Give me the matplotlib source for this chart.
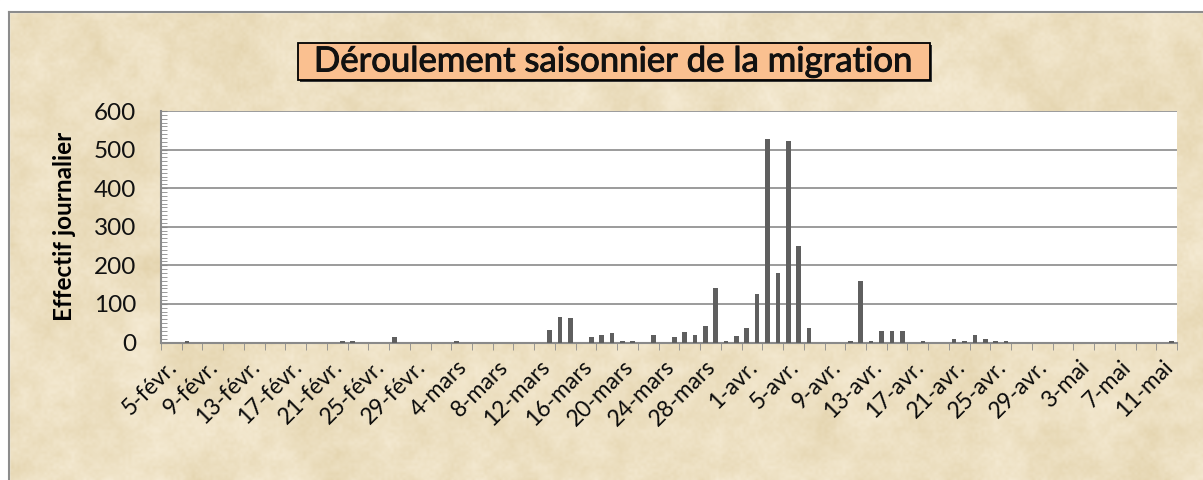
import matplotlib.pyplot as plt
import matplotlib.patches as mpatches
import matplotlib.patheffects as pe
import numpy as np

# daily counts, 5 Feb -> 12 May
months = [('févr.', 5, 29), ('mars', 1, 31), ('avr.', 1, 30), ('mai', 1, 12)]
day_labels = [f'{d}-{m}' for m, first, last in months for d in range(first, last + 1)]

counts = [
    0, 0, 5, 0, 0, 0, 0, 0, 0, 0,
    0, 0, 0, 0, 0, 0, 0, 3, 5, 0,
    0, 0, 14, 0, 0, 0, 0, 0, 3, 0,
    0, 0, 0, 0, 0, 0, 0, 32, 66, 64,
    0, 13, 19, 24, 3, 5, 0, 19, 0, 13,
    27, 19, 42, 140, 5, 16, 37, 126, 527, 180,
    522, 250, 37, 0, 0, 0, 3, 160, 5, 30,
    30, 30, 0, 3, 0, 0, 8, 5, 19, 8,
    3, 3, 0, 0, 0, 0, 0, 0, 0, 0,
    0, 0, 0, 0, 0, 0, 0, 3,
]

title = 'Déroulement saisonnier de la migration'
ylabel = 'Effectif journalier'

plt.rcParams['font.family'] = ['Lato', 'DejaVu Sans']

W, H = 1203, 480
fig = plt.figure(figsize=(W / 100, H / 100), dpi=100)


# parchment background
def upsample(a, h, w):
    ys = np.linspace(0, a.shape[0] - 1, h)
    xs = np.linspace(0, a.shape[1] - 1, w)
    y0 = np.floor(ys).astype(int); y1 = np.minimum(y0 + 1, a.shape[0] - 1); fy = (ys - y0)[:, None]
    x0 = np.floor(xs).astype(int); x1 = np.minimum(x0 + 1, a.shape[1] - 1); fx = (xs - x0)[None, :]
    top = a[y0][:, x0] * (1 - fx) + a[y0][:, x1] * fx
    bot = a[y1][:, x0] * (1 - fx) + a[y1][:, x1] * fx
    return top * (1 - fy) + bot * fy


rng = np.random.default_rng(3)
tex = (0.45 * upsample(rng.random((10, 26)), H, W)
       + 0.35 * upsample(rng.random((40, 100)), H, W)
       + 0.20 * upsample(rng.random((160, 400)), H, W))
tex = (tex - tex.mean()) / (tex.max() - tex.min()) * 2
base = np.array([237, 224, 194]) / 255
amp = np.array([9, 12, 20]) / 255
img = np.clip(base[None, None, :] + tex[:, :, None] * amp[None, None, :], 0, 1)

bg = fig.add_axes([0, 0, 1, 1], zorder=-10)
bg.imshow(img, extent=(0, W, 0, H), aspect='auto', interpolation='bilinear')
bg.set_xlim(0, W); bg.set_ylim(0, H)
bg.axis('off')
# white margin and grey frame
bg.add_patch(mpatches.Rectangle((0, H - 12), W, 12, color='white', zorder=2))
bg.add_patch(mpatches.Rectangle((0, 0), 9, H, color='white', zorder=2))
bg.plot([9, W], [H - 12, H - 12], color='#8c8c8c', lw=1.5, zorder=3)
bg.plot([9, 9], [0, H - 12], color='#8c8c8c', lw=1.5, zorder=3)

# title box (pixel coords of the background axes)
bg.add_patch(mpatches.Rectangle((300, 398), 632, 37, fc='#3a3a3a', ec='none', zorder=3))
bg.add_patch(mpatches.Rectangle((298, 400), 632, 37, fc='#fac090', ec='black', lw=1.3, zorder=4))
bg.text(614, 418.5, title, ha='center', va='center', fontsize=25, color='#111111', zorder=5,
        path_effects=[pe.withStroke(linewidth=0.7, foreground='#111111')])

# bar chart
ax = fig.add_axes([161 / W, 137.5 / H, 1016 / W, 231.5 / H])
ax.set_facecolor('white')
x = np.arange(len(counts))
ax.bar(x, counts, width=0.45, color='#5f5f5f', zorder=3)

ax.set_xlim(-0.5, len(counts) - 0.5)
ax.set_ylim(0, 600)
ax.set_yticks(range(0, 601, 100))
ax.set_yticks(range(0, 601, 10), minor=True)
ax.yaxis.grid(True, color='#8a8a8a', lw=1.2, zorder=1)
ax.tick_params(axis='y', which='both', direction='in', length=4, color='#8a8a8a',
               labelsize=17.5, pad=18, labelcolor='#111111')

ax.set_xticks(x[::4])
ax.set_xticklabels(day_labels[::4], rotation=45, ha='right', va='top',
                   rotation_mode='anchor')
ax.set_xticks(np.arange(-0.5, len(counts), 2), minor=True)
ax.tick_params(axis='x', which='major', length=0, labelsize=16.5, pad=10, labelcolor='#0a0a0a')
ax.tick_params(axis='x', which='minor', direction='out', length=5, color='#8a8a8a')

for s in ['top', 'right']:
    ax.spines[s].set_visible(False)
for s in ['left', 'bottom']:
    ax.spines[s].set_color('#8a8a8a')
    ax.spines[s].set_linewidth(1.5)

ax.set_ylabel(ylabel, fontsize=17.5, fontweight='bold', va='center')
ax.yaxis.set_label_coords(-0.0945, 0.5)

fig.savefig('out.png', dpi=100)
